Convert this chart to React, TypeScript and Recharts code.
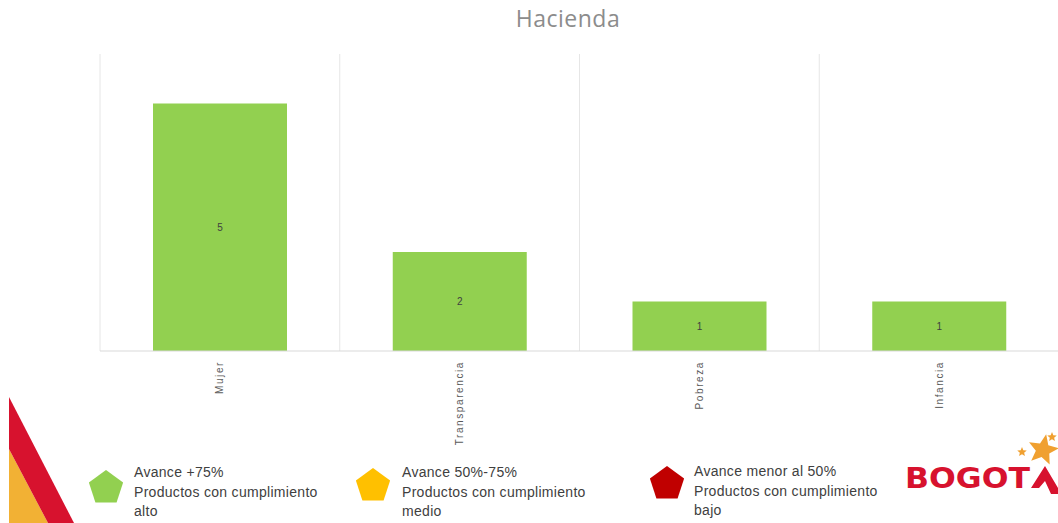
import { Bar, BarChart, CartesianGrid, LabelList, XAxis, YAxis } from "recharts";

const categories = ["Mujer", "Transparencia", "Pobreza", "Infancia"];
const productos = [5, 2, 1, 1];
const yTicks = [0, 1, 2, 3, 4, 5, 6];

const legendTitles = ["Avance +75%", "Avance 50%-75%", "Avance menor al 50%"];
const legendNotes = [
  ["Productos con cumplimiento", "alto"],
  ["Productos con cumplimiento", "medio"],
  ["Productos con cumplimiento", "bajo"],
];
const legendColors = ["#92d050", "#ffc000", "#c00000"];

const data = categories.map((name, i) => ({ name, value: productos[i] }));

const W = 1058;
const H = 523;

function pentagon(cx: number, cy: number, r: number) {
  const pts: string[] = [];
  for (let i = 0; i < 5; i++) {
    const a = -Math.PI / 2 + (i * 2 * Math.PI) / 5;
    pts.push(`${cx + r * Math.cos(a)},${cy + r * Math.sin(a)}`);
  }
  return pts.join(" ");
}

function star(cx: number, cy: number, r: number, rot = 0) {
  const pts: string[] = [];
  for (let i = 0; i < 10; i++) {
    const a = -Math.PI / 2 + rot + (i * Math.PI) / 5;
    const rr = i % 2 === 0 ? r : r * 0.45;
    pts.push(`${cx + rr * Math.cos(a)},${cy + rr * Math.sin(a)}`);
  }
  return pts.join(" ");
}

function CategoryTick(props: any) {
  const { x, y, payload } = props;
  return (
    <text
      transform={`translate(${x},${y + 2}) rotate(-90)`}
      textAnchor="end"
      dy="0.35em"
      fontSize={10}
      letterSpacing={1.6}
      fill="#595959"
      fontFamily="Liberation Sans, Arial, sans-serif"
    >
      {payload.value}
    </text>
  );
}

export default function App() {
  const legendX = [90, 357, 651];
  const textX = [134, 402, 694];
  const centerY = [488, 486, 484];

  return (
    <div style={{ position: "absolute", left: 0, top: 0, width: W, height: H, background: "#fff" }}>
      <div
        style={{
          position: "absolute",
          left: 0,
          top: 2,
          width: 1136,
          textAlign: "center",
          fontFamily: "Open Sans, sans-serif",
          fontSize: 23,
          letterSpacing: 0.5,
          color: "#8c8c8c",
        }}
      >
        Hacienda
      </div>

      <BarChart
        width={W}
        height={H}
        data={data}
        margin={{ top: 54, right: -1, left: 100, bottom: 72 }}
        barCategoryGap={53}
      >
        <CartesianGrid
          horizontal={false}
          stroke="#e6e6e6"
          verticalCoordinatesGenerator={({ offset }: any) =>
            categories.map((_, i) => offset.left + (i * offset.width) / categories.length)
          }
        />
        <XAxis
          dataKey="name"
          height={100}
          interval={0}
          tickLine={false}
          axisLine={{ stroke: "#d9d9d9" }}
          tick={<CategoryTick />}
        />
        <YAxis hide domain={[0, 6]} ticks={yTicks} />
        <Bar dataKey="value" fill="#92d050" isAnimationActive={false}>
          <LabelList
            dataKey="value"
            position="center"
            fontSize={10}
            fill="#404040"
            fontFamily="Liberation Sans, Arial, sans-serif"
          />
        </Bar>
      </BarChart>

      <svg
        width={W}
        height={H}
        style={{ position: "absolute", left: 0, top: 0, pointerEvents: "none" }}
      >
        {/* corner stripes */}
        <polygon points="9,449 48,523 9,523" fill="#f2b134" />
        <polygon points="9,397 74,523 48,523 9,449" fill="#d7122e" />

        {legendColors.map((c, i) => (
          <polygon key={c} points={pentagon(legendX[i] + 16, centerY[i], 18)} fill={c} />
        ))}
        {legendTitles.map((t, i) => (
          <text
            key={t}
            x={textX[i]}
            y={477 - (i === 2 ? 1 : 0)}
            fontSize={14}
            letterSpacing={0.3}
            fill="#404040"
            fontFamily="Liberation Sans, Arial, sans-serif"
          >
            <tspan x={textX[i]}>{t}</tspan>
            <tspan x={textX[i]} dy={19.5}>
              {legendNotes[i][0]}
            </tspan>
            <tspan x={textX[i]} dy={19.5}>
              {legendNotes[i][1]}
            </tspan>
          </text>
        ))}

        {/* logo */}
        <text
          x={905}
          y={488}
          fontSize={29}
          fontWeight="bold"
          fill="#d7122e"
          fontFamily="DejaVu Sans, sans-serif"
          textLength={125}
          lengthAdjust="spacingAndGlyphs"
        >
          BOGOT
        </text>
        <polygon points="1031,488 1045,466 1058,488 1058,494 1051,494 1045,481 1039,488" fill="#d7122e" />
        <polygon points={star(1043, 450, 16, 0.2)} fill="#f0a030" />
        <polygon points={star(1022, 452, 5)} fill="#f0a030" />
        <polygon points={star(1052, 437, 5)} fill="#f0a030" />
      </svg>
    </div>
  );
}
